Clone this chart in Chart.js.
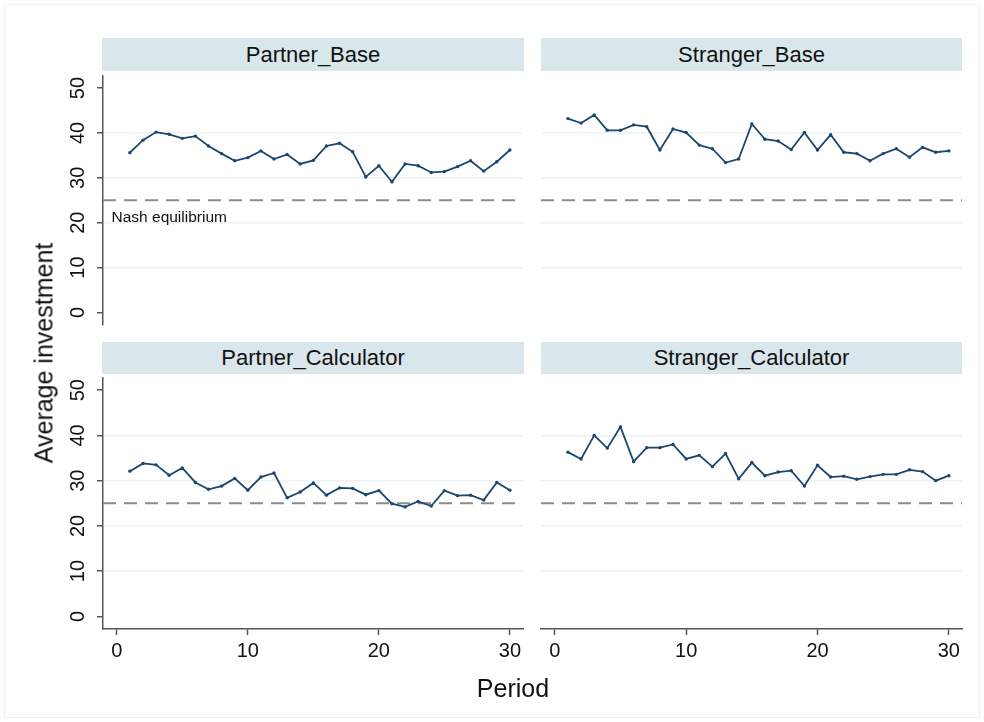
<!DOCTYPE html>
<html>
<head>
<meta charset="utf-8">
<script src="https://cdn.jsdelivr.net/npm/chart.js@4.4.1/dist/chart.umd.min.js"></script>
<style>
  body { margin: 0; background: #fff; }
  #wrap { position: relative; width: 984px; height: 722px; background: #fff; overflow: hidden;
          font-family: "Liberation Sans", Arial, sans-serif; color: #111; }
  #frame { position: absolute; left: 4px; top: 4px; width: 974px; height: 712px; border: 1px solid #eef2f4; }
  .head { position: absolute; background: #d9e6eb; font-size: 22px; text-align: center; }
  canvas { position: absolute; }
  .title { position: absolute; white-space: nowrap; font-size: 25px; transform: translate(-50%, -50%); }
</style>
</head>
<body>
<div id="wrap">
  <div id="frame"></div>

  <div class="head" style="left:102px;top:38px;width:422px;height:33px;line-height:33px;">Partner_Base</div>
  <div class="head" style="left:541px;top:38px;width:421px;height:33px;line-height:33px;">Stranger_Base</div>
  <div class="head" style="left:102px;top:342px;width:422px;height:32px;line-height:32px;">Partner_Calculator</div>
  <div class="head" style="left:541px;top:342px;width:421px;height:32px;line-height:32px;">Stranger_Calculator</div>

  <canvas id="pb" width="540" height="262" style="left:0;top:72px;"></canvas>
  <canvas id="sb" width="456" height="262" style="left:528px;top:72px;"></canvas>
  <canvas id="pc" width="540" height="330" style="left:0;top:374px;"></canvas>
  <canvas id="sc" width="456" height="330" style="left:528px;top:374px;"></canvas>

  <div class="title" style="left:44px;top:353px;transform:translate(-50%,-50%) rotate(-90deg);">Average investment</div>
  <div class="title" style="left:513px;top:688px;">Period</div>
</div>

<script>
const periods = [1, 2, 3, 4, 5, 6, 7, 8, 9, 10, 11, 12, 13, 14, 15,
  16, 17, 18, 19, 20, 21, 22, 23, 24, 25, 26, 27, 28, 29, 30];

const partnerBase = [35.6, 38.4, 40.2, 39.7, 38.8, 39.3, 37.1, 35.4, 33.8, 34.5,
  36.0, 34.2, 35.2, 33.1, 33.9, 37.1, 37.7, 35.8, 30.2, 32.7,
  29.1, 33.1, 32.7, 31.2, 31.4, 32.5, 33.8, 31.5, 33.6, 36.2];

const strangerBase = [43.2, 42.2, 44.0, 40.6, 40.6, 41.8, 41.4, 36.2, 40.9, 40.1,
  37.3, 36.5, 33.4, 34.2, 42.0, 38.6, 38.2, 36.3, 40.1, 36.2,
  39.6, 35.7, 35.4, 33.8, 35.4, 36.5, 34.6, 36.8, 35.7, 36.0];

const partnerCalc = [32.1, 33.8, 33.5, 31.2, 32.8, 29.6, 28.1, 28.8, 30.5, 27.9,
  30.8, 31.7, 26.2, 27.5, 29.5, 26.8, 28.4, 28.3, 26.9, 27.8,
  24.9, 24.2, 25.4, 24.4, 27.8, 26.7, 26.8, 25.7, 29.6, 27.9];

const strangerCalc = [36.3, 34.8, 40.0, 37.2, 41.9, 34.2, 37.3, 37.3, 38.0, 34.8,
  35.6, 33.1, 36.0, 30.4, 34.0, 31.1, 31.9, 32.2, 28.8, 33.4,
  30.8, 31.0, 30.3, 30.9, 31.4, 31.4, 32.4, 32.0, 30.0, 31.1];

const yTicks = [0, 10, 20, 30, 40, 50];
const nashLevel = 25;
const nashLabel = "Nash equilibrium";

const lineColor = "#1a476f";
const axisColor = "#555555";
const gridColor = "#eaf2f3";

// draws the dashed equilibrium line, rotated y labels and the note
const extras = {
  id: "extras",
  beforeDatasetsDraw(chart, args, opts) {
    const ctx = chart.ctx;
    const area = chart.chartArea;
    const y = chart.scales.y.getPixelForValue(nashLevel);
    ctx.save();
    ctx.strokeStyle = "#8c8c8c";
    ctx.lineWidth = 2;
    ctx.setLineDash([13, 8]);
    ctx.beginPath();
    ctx.moveTo(area.left, y);
    ctx.lineTo(area.right, y);
    ctx.stroke();
    ctx.restore();
  },
  afterDraw(chart, args, opts) {
    const ctx = chart.ctx;
    const area = chart.chartArea;
    if (opts.showY) {
      ctx.save();
      ctx.fillStyle = "#111";
      ctx.font = "20px 'Liberation Sans', Arial, sans-serif";
      ctx.textAlign = "center";
      ctx.textBaseline = "middle";
      yTicks.forEach((v) => {
        ctx.save();
        ctx.translate(area.left - 25, chart.scales.y.getPixelForValue(v));
        ctx.rotate(-Math.PI / 2);
        ctx.fillText(String(v), 0, 0);
        ctx.restore();
      });
      ctx.restore();
    }
    if (opts.note) {
      ctx.save();
      ctx.fillStyle = "#111";
      ctx.font = "15.5px 'Liberation Sans', Arial, sans-serif";
      ctx.textBaseline = "alphabetic";
      ctx.fillText(opts.note, chart.scales.x.getPixelForValue(-0.4), chart.scales.y.getPixelForValue(20.2));
      ctx.restore();
    }
  },
};

function makePanel(id, values, showY, showX, note) {
  const ctx = document.getElementById(id).getContext("2d");
  const padRight = showY ? 17 : 22;
  return new Chart(ctx, {
    type: "line",
    data: {
      datasets: [
        {
          data: periods.map((p, i) => ({ x: p, y: values[i] })),
          borderColor: lineColor,
          backgroundColor: lineColor,
          borderWidth: 1.8,
          pointRadius: 1.7,
          pointBorderWidth: 0,
          tension: 0,
        },
      ],
    },
    options: {
      responsive: false,
      animation: false,
      devicePixelRatio: 1,
      layout: { padding: { left: 0, right: padRight, top: 0, bottom: showX ? 33 : 9 } },
      plugins: {
        legend: { display: false },
        tooltip: { enabled: false },
        extras: { showY: showY, note: note },
      },
      scales: {
        x: {
          type: "linear",
          display: showX,
          min: -1.05,
          max: 31,
          afterFit: (s) => { s.height = showX ? 42 : 0; },
          ticks: {
            stepSize: 10,
            includeBounds: false,
            color: "#111",
            padding: 4,
            font: { family: "'Liberation Sans', Arial, sans-serif", size: 20 },
          },
          grid: { drawOnChartArea: false, drawTicks: true, tickLength: 6, tickColor: axisColor, tickWidth: 1.5 },
          border: { display: true, color: axisColor, width: 1.5 },
        },
        y: {
          type: "linear",
          min: -2.8,
          max: 52.7,
          afterFit: (s) => { s.width = showY ? 103 : 13; },
          ticks: { stepSize: 10, includeBounds: false, display: false },
          grid: {
            color: (c) => (c.tick && (c.tick.value === 0 || c.tick.value === 50) ? "rgba(0,0,0,0)" : gridColor),
            lineWidth: 1.5,
            drawTicks: showY,
            tickLength: 6,
            tickColor: axisColor,
            tickWidth: 1.5,
          },
          border: { display: showY, color: axisColor, width: 1.5 },
        },
      },
    },
    plugins: [extras],
  });
}

makePanel("pb", partnerBase, true, false, nashLabel);
makePanel("sb", strangerBase, false, false, null);
makePanel("pc", partnerCalc, true, true, null);
makePanel("sc", strangerCalc, false, true, null);
</script>
</body>
</html>
